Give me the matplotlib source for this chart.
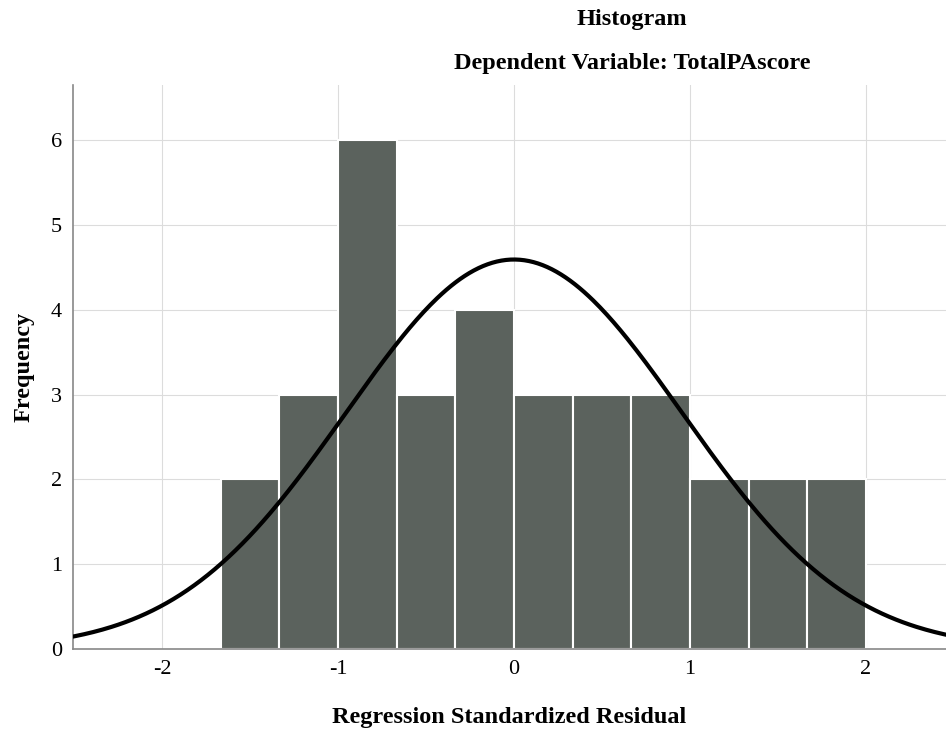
import numpy as np
import matplotlib
matplotlib.use("Agg")
import matplotlib.pyplot as plt

# histogram of regression standardized residuals (SPSS style)
bin_start = -1.667
bin_width = 0.3333
counts = [2, 3, 6, 3, 4, 3, 3, 3, 2, 2, 2]
resid_mean = 0.0
resid_sd = 0.955
n_obs = sum(counts)

xticks = [-2, -1, 0, 1, 2]
yticks = [0, 1, 2, 3, 4, 5, 6]

plt.rcParams['font.family'] = ['Liberation Serif', 'DejaVu Serif']
plt.rcParams['axes.unicode_minus'] = False

fig = plt.figure(figsize=(9.46, 7.34), dpi=100)
ax = fig.add_axes([0.0772, 0.1158, 0.9228, 0.768])

edges = bin_start + bin_width * np.arange(len(counts))
ax.bar(edges, counts, width=bin_width, align='edge', color='#5b625d',
       edgecolor='white', linewidth=1.5, zorder=2)

xs = np.linspace(-2.6, 2.6, 400)
curve = n_obs * bin_width / (resid_sd * np.sqrt(2 * np.pi)) * np.exp(-(xs - resid_mean) ** 2 / (2 * resid_sd ** 2))
ax.plot(xs, curve, color='black', linewidth=3, zorder=3)

ax.set_xlim(-2.506, 2.455)
ax.set_ylim(0, 6.65)
ax.set_xticks(xticks)
ax.set_yticks(yticks)
ax.tick_params(length=0, labelsize=16, pad=8)
ax.grid(True, color='#dcdcdc', linewidth=0.8, zorder=0)
ax.set_axisbelow(True)
for s in ['top', 'right']:
    ax.spines[s].set_visible(False)
for s in ['left', 'bottom']:
    ax.spines[s].set_color('#888888')
    ax.spines[s].set_linewidth(1.2)

ax.set_xlabel('Regression Standardized Residual', fontsize=17.5, fontweight='bold', labelpad=20)
ax.set_ylabel('Frequency', fontsize=17.5, fontweight='bold', labelpad=12)

fig.text(0.668, 0.974, 'Histogram', ha='center', va='center', fontsize=17.5, fontweight='bold')
fig.text(0.668, 0.914, 'Dependent Variable: TotalPAscore', ha='center', va='center', fontsize=17.5, fontweight='bold')

fig.savefig('out.png', dpi=100)
